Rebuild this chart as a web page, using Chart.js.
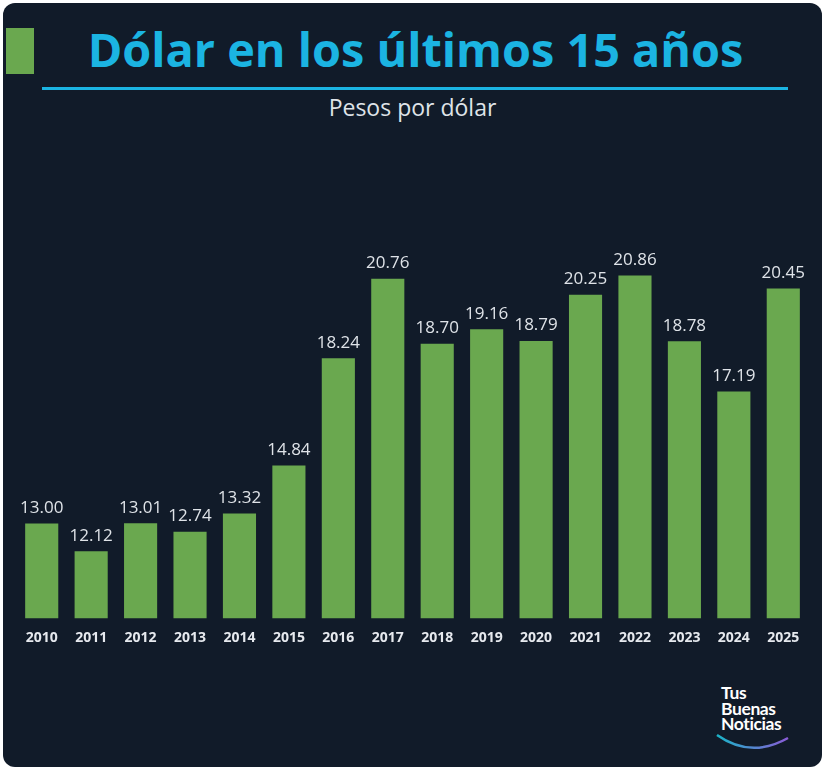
<!DOCTYPE html>
<html>
<head>
<meta charset="utf-8">
<script src="https://cdn.jsdelivr.net/npm/chart.js@4.4.1/dist/chart.umd.min.js"></script>
<style>
  body { margin: 0; background: #ffffff; width: 825px; height: 770px; overflow: hidden; font-family: "Open Sans", "Noto Sans", sans-serif; }
  #panel { position: absolute; left: 3px; top: 3px; width: 819px; height: 764px; background: #111b29; border-radius: 12px; overflow: hidden; }
  #square { position: absolute; left: 3px; top: 25px; width: 28px; height: 46px; background: #6aa84f; }
  #title { position: absolute; left: 0; top: 17px; width: 825px; text-align: center; color: #1bb4e2; font-weight: 700; font-size: 46.8px; line-height: 58px; margin-left: 0px; }
  #rule { position: absolute; left: 39px; top: 84px; width: 746px; height: 3px; background: #1bb4e2; }
  #subtitle { position: absolute; left: 0; top: 88px; width: 819px; text-align: center; color: #dfe3e8; font-size: 23px; }
  #logo { position: absolute; left: 718px; top: 682px; color: #fff; font-family: "Lato", sans-serif; font-weight: 700; font-size: 17.5px; line-height: 15.5px; letter-spacing: -0.4px; }
  #arc { position: absolute; left: 710px; top: 726px; }
  canvas { position: absolute; left: 0; top: 0; }
</style>
</head>
<body>
<div id="panel">
  <div id="square"></div>
  <div id="title">Dólar en los últimos 15 años</div>
  <div id="rule"></div>
  <div id="subtitle">Pesos por dólar</div>
  <div id="logo">Tus<br>Buenas<br>Noticias</div>
  <svg id="arc" width="90" height="30">
    <defs>
      <linearGradient id="g" x1="0" x2="1" y1="0" y2="0">
        <stop offset="0" stop-color="#1bb4c8"/>
        <stop offset="1" stop-color="#8a5bd6"/>
      </linearGradient>
    </defs>
    <path d="M4 6 Q 38 30 75 9" stroke="url(#g)" stroke-width="2.5" fill="none"/>
  </svg>
</div>
<div style="position:absolute;left:0;top:0;width:825px;height:770px;">
  <canvas id="myChart" width="825" height="770"></canvas>
</div>
<script>
const years = ['2010','2011','2012','2013','2014','2015','2016','2017','2018','2019','2020','2021','2022','2023','2024','2025'];
const pesos = [13.00, 12.12, 13.01, 12.74, 13.32, 14.84, 18.24, 20.76, 18.70, 19.16, 18.79, 20.25, 20.86, 18.78, 17.19, 20.45];

// value labels over each bar
const valueLabels = {
  id: 'valueLabels',
  afterDatasetsDraw(chart) {
    const ctx = chart.ctx;
    const meta = chart.getDatasetMeta(0);
    ctx.save();
    ctx.fillStyle = '#dfe3e8';
    ctx.font = '17px "Open Sans", sans-serif';
    ctx.textAlign = 'center';
    ctx.textBaseline = 'bottom';
    meta.data.forEach((bar, i) => {
      ctx.fillText(pesos[i].toFixed(2), bar.x, bar.y - 7);
    });
    ctx.restore();
  }
};

const canvas = document.getElementById('myChart').getContext('2d');
const myChart = new Chart(canvas, {
  type: 'bar',
  data: {
    labels: years,
    datasets: [{
      label: 'Pesos por dólar',
      data: pesos,
      backgroundColor: '#6aa84f',
      categoryPercentage: 1,
      barPercentage: 0.67
    }]
  },
  options: {
    responsive: false,
    animation: false,
    layout: { padding: { left: 17, right: 17, top: 145, bottom: 113 } },
    plugins: {
      legend: { display: false },
      tooltip: { enabled: false }
    },
    scales: {
      x: {
        grid: { display: false, drawTicks: false },
        border: { display: false },
        ticks: {
          color: '#e6e9ee',
          font: { family: '"Open Sans", sans-serif', size: 14, weight: 'bold' },
          padding: 11
        }
      },
      y: {
        display: false,
        min: 10,
        max: 25
      }
    }
  },
  plugins: [valueLabels]
});
</script>
</body>
</html>
